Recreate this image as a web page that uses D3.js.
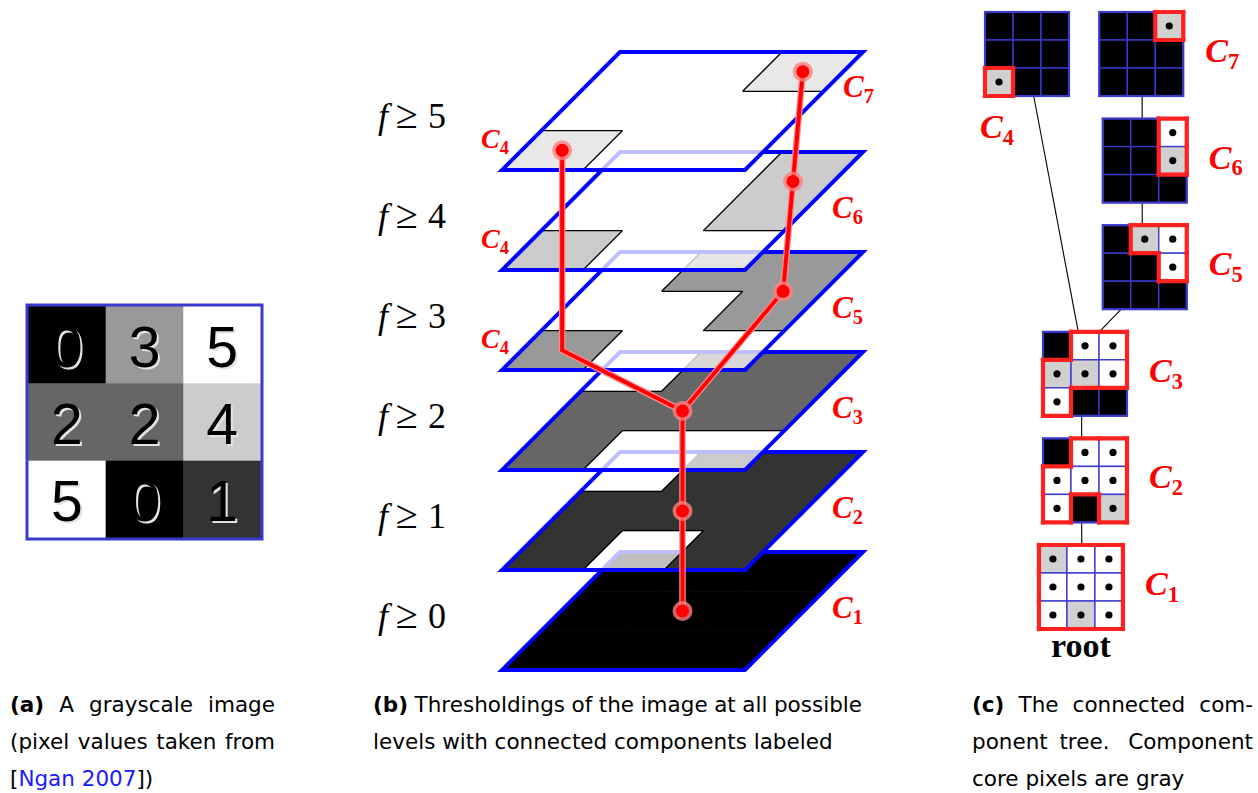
<!DOCTYPE html>
<html>
<head>
<meta charset="utf-8">
<script src="https://cdn.jsdelivr.net/npm/d3@7"></script>
<style>
  html, body { margin: 0; padding: 0; background: #fff; }
  svg { display: block; }
</style>
</head>
<body>
<svg width="1258" height="793"></svg>
<script>
;(function (d3) {
  // the 3x3 grayscale image, row 0 on top
  var pixels = [
    [0, 3, 5],
    [2, 2, 4],
    [5, 0, 1]
  ]
  var levels = [0, 1, 2, 3, 4, 5]
  var pixelGray = ['#000000', '#333333', '#666666', '#999999', '#cccccc', '#ffffff']
  var layerGray = ['#000000', '#333333', '#666666', '#999999', '#cccccc', '#e8e8e8']

  // connected components (rows/cols of the image)
  var compNames = ['C1', 'C2', 'C3', 'C4', 'C5', 'C6', 'C7']
  var compLevels = [0, 1, 2, 5, 3, 4, 5]
  var compParents = [null, 'C1', 'C2', 'C3', 'C3', 'C5', 'C6']
  var compCells = [
    [[0, 0], [0, 1], [0, 2], [1, 0], [1, 1], [1, 2], [2, 0], [2, 1], [2, 2]],
    [[0, 1], [0, 2], [1, 0], [1, 1], [1, 2], [2, 0], [2, 2]],
    [[0, 1], [0, 2], [1, 0], [1, 1], [1, 2], [2, 0]],
    [[2, 0]],
    [[0, 1], [0, 2], [1, 2]],
    [[0, 2], [1, 2]],
    [[0, 2]]
  ]

  // red tree in panel (b): node spot on its layer, in pixel units (u = col, v = row)
  var treeIds = ['C1', 'C2', 'C3', 'C4bend', 'C4', 'C5', 'C6', 'C7']
  var treeLevels = [0, 1, 2, 3, 5, 3, 4, 5]
  var treeU = [1.5, 1.5, 1.5, 0.5, 0.5, 2.5, 2.5, 2.5]
  var treeV = [1.5, 1.5, 1.5, 2.5, 2.5, 1.0, 0.75, 0.5]
  var treeDot = [true, true, true, false, true, true, true, true]
  var treeLinks = [['C1', 'C2'], ['C2', 'C3'], ['C3', 'C4bend'], ['C4bend', 'C4'],
    ['C3', 'C5'], ['C5', 'C6'], ['C6', 'C7']]

  // layout of panel (c) tree: column / row slots
  var cCol = [0.93, 1, 1, 0, 2.03, 2.03, 1.97]
  var cRow = [5, 4, 3, 0, 2, 1, 0]
  var cEdgeChild = [0, 0.46, 0.46, 0.58, 0.22, 0.47, 0.51]
  var cEdgeParent = [0, 0.51, 0.46, 0.42, 0.67, 0.47, 0.47]

  var captionA = ['(a) A grayscale image', '(pixel values taken from', '[Ngan 2007])']
  var captionB = ['(b) Thresholdings of the image at all possible', 'levels with connected components labeled']
  var captionC = ['(c) The connected com-', 'ponent tree.  Component', 'core pixels are gray']

  var svg = d3.select('svg')
  var BLUE = '#0000ff'
  var GRIDBLUE = '#3a3acc'
  var RED = '#ff0000'
  var serif = "'Liberation Serif', 'Times New Roman', serif"
  var sans = "'DejaVu Sans', sans-serif"

  function rowsOf (n) { return d3.range(n) }

  // ---------- panel (a) ----------
  var ax = d3.scaleBand().domain(rowsOf(3)).range([28, 261])
  var ay = d3.scaleBand().domain(rowsOf(3)).range([306, 538])
  var ga = svg.append('g')
  var flat = []
  pixels.forEach(function (row, r) {
    row.forEach(function (v, c) { flat.push({ r: r, c: c, v: v }) })
  })
  ga.selectAll('rect.px').data(flat).enter().append('rect')
    .attr('x', d => ax(d.c)).attr('y', d => ay(d.r))
    .attr('width', ax.bandwidth() + 0.5).attr('height', ay.bandwidth() + 0.5)
    .style('fill', d => pixelGray[d.v])
  ga.append('rect')
    .attr('x', 27).attr('y', 305).attr('width', 235).attr('height', 234)
    .style('fill', 'none').style('stroke', GRIDBLUE).style('stroke-width', 3)
  ;[{ dx: 2, dy: 2, col: '#e4e4e4' }, { dx: 0, dy: 0, col: '#000' }].forEach(function (s) {
    ga.selectAll(null).data(flat).enter().append('text')
      .attr('x', d => ax(d.c) + ax.bandwidth() / 2 + s.dx)
      .attr('y', d => ay(d.r) + ay.bandwidth() / 2 + 22 + s.dy)
      .attr('text-anchor', 'middle')
      .style('font-family', "'Liberation Sans', Arial, sans-serif")
      .style('font-size', '57px')
      .style('fill', s.col)
      .text(d => d.v)
  })

  // ---------- panel (b) ----------
  var x0 = 502
  var cellW = 81
  var depth = 118 / 3
  var yFront = d3.scaleLinear().domain([0, 5]).range([670, 170])
  function proj (k, u, v) {
    var d = (3 - v) * depth
    return [x0 + u * cellW + d, yFront(k) - d]
  }
  function quad (k, u0, v0, u1, v1) {
    return [proj(k, u0, v0), proj(k, u1, v0), proj(k, u1, v1), proj(k, u0, v1)]
  }
  var line = d3.line()

  var gb = svg.append('g')
  levels.forEach(function (k) {
    var g = gb.append('g')
    var outline = quad(k, 0, 0, 3, 3)
    g.append('path').attr('d', line(outline) + 'Z')
      .style('fill', '#fff').style('fill-opacity', 0.75)
    var on = flat.filter(d => d.v >= k)
    g.selectAll('path.cell').data(on).enter().append('path')
      .attr('d', d => line(quad(k, d.c, d.r, d.c + 1, d.r + 1)) + 'Z')
      .style('fill', layerGray[k]).style('stroke', layerGray[k]).style('stroke-width', 0.7)
    // black border between filled part and holes
    var segs = []
    on.forEach(function (d) {
      var nb = [[-1, 0, [0, 0], [1, 0]], [1, 0, [0, 1], [1, 1]], [0, -1, [0, 0], [0, 1]], [0, 1, [1, 0], [1, 1]]]
      nb.forEach(function (n) {
        var rr = d.r + n[0], cc = d.c + n[1]
        if (rr < 0 || rr > 2 || cc < 0 || cc > 2) return
        if (pixels[rr][cc] >= k) return
        segs.push([proj(k, d.c + n[2][0], d.r + n[2][1]), proj(k, d.c + n[3][0], d.r + n[3][1])])
      })
    })
    g.selectAll('path.edge').data(segs).enter().append('path')
      .attr('d', d => line(d))
      .style('stroke', '#000').style('stroke-width', 1.3).style('fill', 'none')
    g.append('path').attr('d', line(outline) + 'Z')
      .style('fill', 'none').style('stroke', BLUE).style('stroke-width', 4)
      .style('stroke-linejoin', 'miter')
  })

  // red tree
  var nodes = treeIds.map(function (id, i) {
    var p = proj(treeLevels[i], treeU[i], treeV[i])
    return { id: id, x: p[0], y: p[1], dot: treeDot[i] }
  })
  var byId = {}
  nodes.forEach(n => { byId[n.id] = n })
  var gt = gb.append('g')
  ;[{ w: 6.5, c: '#ff8c8c' }, { w: 4, c: RED }].forEach(function (s) {
    gt.selectAll(null).data(treeLinks).enter().append('line')
      .attr('x1', d => byId[d[0]].x).attr('y1', d => byId[d[0]].y)
      .attr('x2', d => byId[d[1]].x).attr('y2', d => byId[d[1]].y)
      .style('stroke', s.c).style('stroke-width', s.w).style('stroke-linecap', 'round')
  })
  var dots = nodes.filter(n => n.dot)
  gt.selectAll('circle.halo').data(dots).enter().append('circle')
    .attr('cx', d => d.x).attr('cy', d => d.y).attr('r', 10)
    .style('fill', '#ff8080').style('opacity', 0.8)
  gt.selectAll('circle.core').data(dots).enter().append('circle')
    .attr('cx', d => d.x).attr('cy', d => d.y).attr('r', 6.5)
    .style('fill', RED)

  // f >= k labels
  var fl = gb.selectAll('text.f').data(levels).enter().append('text')
    .attr('y', k => yFront(k) - 42)
    .style('font-family', serif).style('font-size', '36px').style('fill', '#000')
  fl.append('tspan').attr('x', 378).style('font-style', 'italic').text('f')
  fl.append('tspan').attr('x', 396).style('font-size', '40px').text('\u2265')
  fl.append('tspan').attr('x', 428).text(k => k)

  function compLabel (g, x, y, n, size) {
    var t = g.append('text').attr('x', x).attr('y', y)
      .style('font-family', serif).style('font-weight', 'bold').style('fill', RED)
    t.append('tspan').style('font-style', 'italic').style('font-size', size + 'px').text('C')
    t.append('tspan').attr('dy', size * 0.2).style('font-size', (size * 0.66) + 'px').text(n)
  }
  // right-hand labels of panel (b)
  var rightLab = [['1', 0, 832, 52], ['2', 1, 832, 52], ['3', 2, 832, 52], ['5', 3, 832, 52], ['6', 4, 832, 52], ['7', 5, 843, 73]]
  rightLab.forEach(d => compLabel(gb, d[2], yFront(d[1]) - d[3], d[0], 31))
  ;[3, 4, 5].forEach(k => compLabel(gb, 481, yFront(k) - 22, '4', 28))

  // ---------- panel (c) ----------
  var cell = 28
  var cx = d3.scaleLinear().domain([0, 2]).range([985, 1101])
  var cy = d3.scaleLinear().domain([0, 5]).range([12, 545])
  var gc = svg.append('g')
  var comps = compNames.map(function (name, i) {
    return { name: name, level: compLevels[i], parent: compParents[i], cells: compCells[i],
      x: cx(cCol[i]), y: cy(cRow[i]), ec: cEdgeChild[i], ep: cEdgeParent[i] }
  })
  var cById = {}
  comps.forEach(c => { cById[c.name] = c })

  // edges
  comps.filter(c => c.parent).forEach(function (c) {
    var p = cById[c.parent]
    gc.append('line')
      .attr('x1', c.x + c.ec * 3 * cell).attr('y1', c.y + 3 * cell)
      .attr('x2', p.x + c.ep * 3 * cell).attr('y2', p.y)
      .style('stroke', '#000').style('stroke-width', 1.1)
  })

  comps.forEach(function (c) {
    var g = gc.append('g').attr('transform', 'translate(' + c.x + ',' + c.y + ')')
    var inComp = {}
    c.cells.forEach(p => { inComp[p[0] + ',' + p[1]] = true })
    var cs = flat.map(d => ({ r: d.r, c: d.c, v: d.v, in: !!inComp[d.r + ',' + d.c] }))
    g.selectAll('rect').data(cs).enter().append('rect')
      .attr('x', d => d.c * cell).attr('y', d => d.r * cell)
      .attr('width', cell).attr('height', cell)
      .style('fill', d => d.in ? (d.v === c.level ? '#d0d0d0' : '#fff') : '#000')
      .style('stroke', GRIDBLUE).style('stroke-width', 1.4)
    g.append('rect').attr('width', 3 * cell).attr('height', 3 * cell)
      .style('fill', 'none').style('stroke', GRIDBLUE).style('stroke-width', 2.2)
    var segs = []
    cs.filter(d => d.in).forEach(function (d) {
      var x = d.c * cell, y = d.r * cell
      if (!inComp[(d.r - 1) + ',' + d.c]) segs.push([[x, y], [x + cell, y]])
      if (!inComp[(d.r + 1) + ',' + d.c]) segs.push([[x, y + cell], [x + cell, y + cell]])
      if (!inComp[d.r + ',' + (d.c - 1)]) segs.push([[x, y], [x, y + cell]])
      if (!inComp[d.r + ',' + (d.c + 1)]) segs.push([[x + cell, y], [x + cell, y + cell]])
    })
    g.selectAll('path').data(segs).enter().append('path')
      .attr('d', d => line(d))
      .style('stroke', '#ff2020').style('stroke-width', 4.2).style('stroke-linecap', 'square')
    g.selectAll('circle').data(cs.filter(d => d.in)).enter().append('circle')
      .attr('cx', d => d.c * cell + cell / 2).attr('cy', d => d.r * cell + cell / 2)
      .attr('r', 3.6).style('fill', '#000')
    var n = c.name.slice(1)
    if (c.name === 'C4') compLabel(gc, c.x - 5, c.y + 3 * cell + 42, n, 34)
    else compLabel(gc, c.x + 3 * cell + 22, c.y + 50, n, 34)
  })
  gc.append('text').attr('x', 1081).attr('y', 657).attr('text-anchor', 'middle')
    .style('font-family', serif).style('font-weight', 'bold').style('font-size', '34px')
    .text('root')

  // ---------- captions ----------
  function caption (lines, x, w, justify) {
    lines.forEach(function (ln, i) {
      var y = 712 + i * 37
      if (justify[i]) {
        var words = ln.split(' ').filter(s => s.length)
        var seps = ln.split(/\S+/).slice(1, -1).map(s => s.length > 1 ? 1.6 : 1)
        var ts = words.map(function (wd) {
          return svg.append('text').attr('y', y)
            .style('font-family', sans).style('font-size', '21.5px')
            .style('font-weight', /^\(\w\)$/.test(wd) ? 'bold' : 'normal')
            .text(wd)
        })
        var widths = ts.map(t => t.node().getComputedTextLength())
        var gap = (w - d3.sum(widths)) / d3.sum(seps)
        var cur = x
        ts.forEach(function (t, j) {
          t.attr('x', cur)
          cur += widths[j] + (j < seps.length ? gap * seps[j] : 0)
        })
      } else {
        var t = svg.append('text').attr('x', x).attr('y', y)
          .style('font-family', sans).style('font-size', '21.5px')
        var parts = ln.match(/^\[(.*)\](.*)$/)
        if (parts) {
          t.append('tspan').text('[')
          t.append('tspan').style('fill', '#1a1aff').text(parts[1])
          t.append('tspan').text(']' + parts[2])
        } else {
          var m = ln.match(/^(\(\w\))(.*)$/)
          if (m) {
            t.append('tspan').style('font-weight', 'bold').text(m[1])
            t.append('tspan').text(m[2])
          } else t.text(ln)
        }
      }
    })
  }
  caption(captionA, 10, 265, [true, true, false])
  caption(captionB, 373, 489, [true, false])
  caption(captionC, 972, 281, [true, true, false])
})(window.d3)
</script>
</body>
</html>
